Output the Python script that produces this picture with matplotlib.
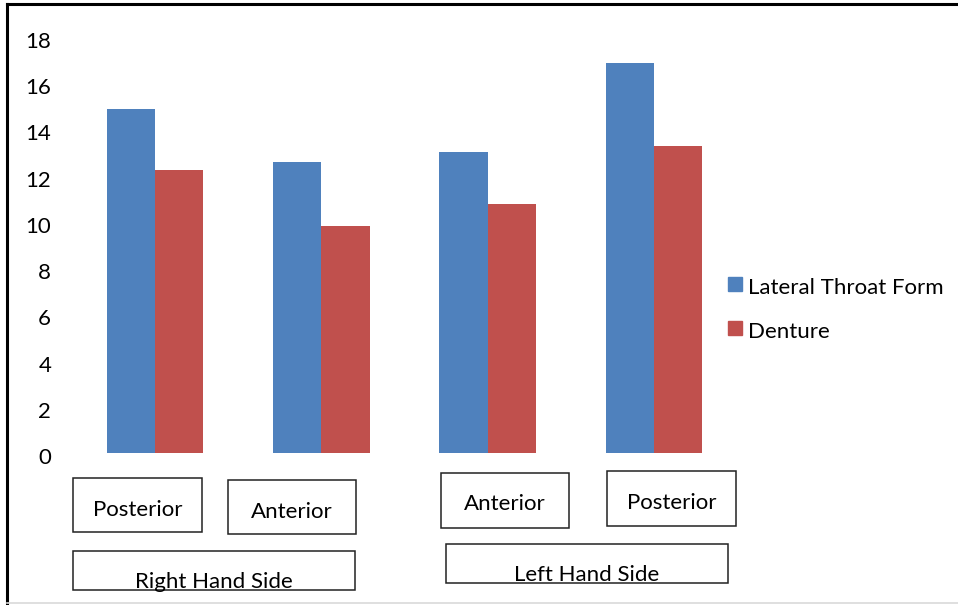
import matplotlib
matplotlib.use("Agg")
import matplotlib.pyplot as plt
from matplotlib.patches import Rectangle
from matplotlib.lines import Line2D
import matplotlib.transforms as mtransforms
import numpy as np

# Data
positions = ["Posterior", "Anterior", "Anterior", "Posterior"]
sides = ["Right Hand Side", "Left Hand Side"]
series_names = ["Lateral Throat Form", "Denture"]
lateral_throat_form = [15.0, 12.7, 13.1, 17.0]
denture = [12.35, 9.9, 10.85, 13.4]
y_ticks = [0, 2, 4, 6, 8, 10, 12, 14, 16, 18]

BLUE = "#4F81BD"
RED = "#C0504D"
FONT = "Lato"
FS = 16

W, H = 958, 605
fig = plt.figure(figsize=(W / 100, H / 100), dpi=100)
fig.patch.set_facecolor("white")


def fx(px):
    return px / W


def fy(py):
    return 1 - py / H


# Plot area
ax = fig.add_axes([fx(72), fy(453), (737 - 72) / W, (453 - 40) / H])
x = np.arange(len(positions))
bw = 0.29
ax.bar(x - bw / 2, lateral_throat_form, bw, color=BLUE, label=series_names[0])
ax.bar(x + bw / 2, denture, bw, color=RED, label=series_names[1])
ax.set_xlim(-0.5, 3.5)
ax.set_ylim(0, 18)
ax.set_yticks(y_ticks)
ax.set_yticklabels([str(v) for v in y_ticks], fontsize=FS, fontfamily=FONT)
ax.tick_params(axis="y", length=0, pad=15)
ax.set_xticks([])
for s in ax.spines.values():
    s.set_visible(False)
ax.patch.set_alpha(0)
# tick labels sit a touch low and spread slightly wider than the gridline spacing
for v, lbl in zip(y_ticks, ax.get_yticklabels()):
    dy = (-3 + 3 * v / 18) / 100
    lbl.set_transform(lbl.get_transform()
                      + mtransforms.ScaledTranslation(0, dy, fig.dpi_scale_trans))

# Legend
for (name, col, yc) in [(series_names[0], BLUE, 284), (series_names[1], RED, 328)]:
    fig.patches.append(Rectangle((fx(728), fy(yc + 7)), 14 / W, 14 / H,
                                 transform=fig.transFigure, color=col))
    fig.text(fx(748), fy(yc + 4), name, fontsize=FS, fontfamily=FONT,
             va="center", ha="left")


# Category label boxes
def box(x0, y0, x1, y1, label, ty):
    fig.patches.append(Rectangle((fx(x0), fy(y1)), (x1 - x0) / W, (y1 - y0) / H,
                                 transform=fig.transFigure, fill=False,
                                 edgecolor="#222222", lw=1.1))
    fig.text(fx((x0 + x1) / 2), fy(ty), label, fontsize=FS, fontfamily=FONT,
             ha="center", va="center")


box(73, 478, 202, 532, positions[0], 510)
box(228, 480, 356, 534, positions[1], 512)
box(441, 473, 569, 528, positions[2], 504)
box(607, 471, 736, 526, positions[3], 503)
box(73, 551, 355, 590, sides[0], 582)
box(446, 544, 728, 583, sides[1], 575)

# Outer frame
fig.lines.append(Line2D([fx(7), fx(7)], [fy(4), fy(605)], transform=fig.transFigure,
                        color="black", lw=2.2))
fig.lines.append(Line2D([fx(7), fx(958)], [fy(4), fy(4)], transform=fig.transFigure,
                        color="black", lw=2.2))
fig.lines.append(Line2D([fx(7), fx(958)], [fy(603), fy(603)], transform=fig.transFigure,
                        color="#D9D9D9", lw=1.2))

fig.savefig("out.png", dpi=100)
